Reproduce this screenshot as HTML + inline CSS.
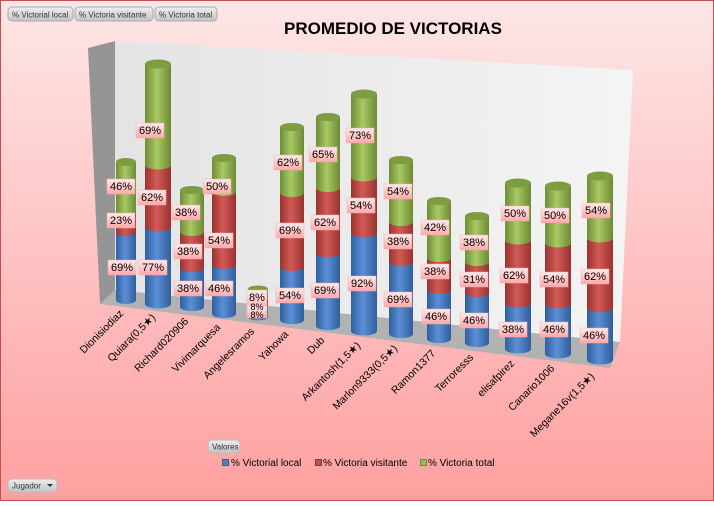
<!DOCTYPE html>
<html><head><meta charset="utf-8"><style>
body{margin:0;width:714px;height:501px;overflow:hidden;font-family:"Liberation Sans",sans-serif}
</style></head><body>
<svg width="714" height="501" xmlns="http://www.w3.org/2000/svg" font-family="Liberation Sans, DejaVu Sans, sans-serif">
<defs>
<linearGradient id="bg" x1="0" y1="0" x2="0" y2="1"><stop offset="0" stop-color="#fde6e6"/><stop offset="1" stop-color="#ffa0a0"/></linearGradient>
<linearGradient id="wall" x1="0" y1="0" x2="1" y2="0"><stop offset="0" stop-color="#e4e4e4"/><stop offset="1" stop-color="#f4f4f4"/></linearGradient>
<linearGradient id="gb" x1="0" x2="1"><stop offset="0" stop-color="#2f5f9e"/><stop offset=".45" stop-color="#5b8fd6"/><stop offset="1" stop-color="#305e9c"/></linearGradient>
<linearGradient id="gr" x1="0" x2="1"><stop offset="0" stop-color="#9a3330"/><stop offset=".45" stop-color="#d25a56"/><stop offset="1" stop-color="#993230"/></linearGradient>
<linearGradient id="gg" x1="0" x2="1"><stop offset="0" stop-color="#6f8d36"/><stop offset=".45" stop-color="#a8c963"/><stop offset="1" stop-color="#6c8a34"/></linearGradient>
<linearGradient id="lb" x1="0" y1="0" x2="0" y2="1"><stop offset="0" stop-color="#ffeaea"/><stop offset="1" stop-color="#ffa8a8"/></linearGradient>
<linearGradient id="btn" x1="0" y1="0" x2="0" y2="1"><stop offset="0" stop-color="#eeeeee"/><stop offset="1" stop-color="#c4c4c4"/></linearGradient>
</defs>
<rect x="0.5" y="0.5" width="713" height="500" fill="url(#bg)" stroke="#c0504d"/>
<polygon points="88,48 115,41 115,290 100,304" fill="#959595"/>
<polygon points="115,41 633,70 620,342 115,290" fill="url(#wall)"/>
<polygon points="100,304 115,290 620,342 610,368" fill="#b2b2b2"/>
<g font-size="8" fill="#333">
<rect x="8" y="7" width="65" height="14" rx="4" fill="url(#btn)" stroke="#aaa"/><text x="12" y="17.5">% Victorial local</text>
<rect x="75" y="7" width="78" height="14" rx="4" fill="url(#btn)" stroke="#aaa"/><text x="79" y="17.5">% Victoria visitante</text>
<rect x="155" y="7" width="62" height="14" rx="4" fill="url(#btn)" stroke="#aaa"/><text x="159" y="17.5">% Victoria total</text>
</g>
<text x="393" y="34" font-size="17" font-weight="bold" text-anchor="middle" fill="#000">PROMEDIO DE VICTORIAS</text>

<g id="cyl">
<rect x="116" y="232" width="20" height="68" fill="url(#gb)"/><ellipse cx="126" cy="300" rx="10" ry="4" fill="url(#gb)"/>
<rect x="116" y="212" width="20" height="20" fill="url(#gr)"/><ellipse cx="126" cy="232" rx="10" ry="4" fill="url(#gr)"/>
<rect x="116" y="162" width="20" height="50" fill="url(#gg)"/><ellipse cx="126" cy="212" rx="10" ry="4" fill="url(#gg)"/><ellipse cx="126" cy="162" rx="10" ry="4" fill="#7e9c42"/>
<rect x="145" y="227" width="26" height="77" fill="url(#gb)"/><ellipse cx="158" cy="304" rx="13" ry="4.5" fill="url(#gb)"/>
<rect x="145" y="165" width="26" height="62" fill="url(#gr)"/><ellipse cx="158" cy="227" rx="13" ry="4.5" fill="url(#gr)"/>
<rect x="145" y="64" width="26" height="101" fill="url(#gg)"/><ellipse cx="158" cy="165" rx="13" ry="4.5" fill="url(#gg)"/><ellipse cx="158" cy="64" rx="13" ry="4.5" fill="#7e9c42"/>
<rect x="180" y="268" width="24" height="39" fill="url(#gb)"/><ellipse cx="192" cy="307" rx="12" ry="4" fill="url(#gb)"/>
<rect x="180" y="232" width="24" height="36" fill="url(#gr)"/><ellipse cx="192" cy="268" rx="12" ry="4" fill="url(#gr)"/>
<rect x="180" y="190" width="24" height="42" fill="url(#gg)"/><ellipse cx="192" cy="232" rx="12" ry="4" fill="url(#gg)"/><ellipse cx="192" cy="190" rx="12" ry="4" fill="#7e9c42"/>
<rect x="212" y="265" width="24" height="49" fill="url(#gb)"/><ellipse cx="224" cy="314" rx="12" ry="4" fill="url(#gb)"/>
<rect x="212" y="192" width="24" height="73" fill="url(#gr)"/><ellipse cx="224" cy="265" rx="12" ry="4" fill="url(#gr)"/>
<rect x="212" y="158" width="24" height="34" fill="url(#gg)"/><ellipse cx="224" cy="192" rx="12" ry="4" fill="url(#gg)"/><ellipse cx="224" cy="158" rx="12" ry="4" fill="#7e9c42"/>
<rect x="248" y="307" width="20" height="10" fill="url(#gb)"/><ellipse cx="258" cy="317" rx="10" ry="3.5" fill="url(#gb)"/>
<rect x="248" y="298" width="20" height="9" fill="url(#gr)"/><ellipse cx="258" cy="307" rx="10" ry="3.5" fill="url(#gr)"/>
<rect x="248" y="289" width="20" height="9" fill="url(#gg)"/><ellipse cx="258" cy="298" rx="10" ry="3.5" fill="url(#gg)"/><ellipse cx="258" cy="289" rx="10" ry="3.5" fill="#7e9c42"/>
<rect x="280" y="267" width="24" height="53" fill="url(#gb)"/><ellipse cx="292" cy="320" rx="12" ry="4" fill="url(#gb)"/>
<rect x="280" y="193" width="24" height="74" fill="url(#gr)"/><ellipse cx="292" cy="267" rx="12" ry="4" fill="url(#gr)"/>
<rect x="280" y="127" width="24" height="66" fill="url(#gg)"/><ellipse cx="292" cy="193" rx="12" ry="4" fill="url(#gg)"/><ellipse cx="292" cy="127" rx="12" ry="4" fill="#7e9c42"/>
<rect x="316" y="253" width="24" height="73" fill="url(#gb)"/><ellipse cx="328" cy="326" rx="12" ry="4" fill="url(#gb)"/>
<rect x="316" y="188" width="24" height="65" fill="url(#gr)"/><ellipse cx="328" cy="253" rx="12" ry="4" fill="url(#gr)"/>
<rect x="316" y="117" width="24" height="71" fill="url(#gg)"/><ellipse cx="328" cy="188" rx="12" ry="4" fill="url(#gg)"/><ellipse cx="328" cy="117" rx="12" ry="4" fill="#7e9c42"/>
<rect x="351" y="233" width="26" height="98" fill="url(#gb)"/><ellipse cx="364" cy="331" rx="13" ry="4.5" fill="url(#gb)"/>
<rect x="351" y="177" width="26" height="56" fill="url(#gr)"/><ellipse cx="364" cy="233" rx="13" ry="4.5" fill="url(#gr)"/>
<rect x="351" y="94" width="26" height="83" fill="url(#gg)"/><ellipse cx="364" cy="177" rx="13" ry="4.5" fill="url(#gg)"/><ellipse cx="364" cy="94" rx="13" ry="4.5" fill="#7e9c42"/>
<rect x="389" y="262" width="24" height="72" fill="url(#gb)"/><ellipse cx="401" cy="334" rx="12" ry="4" fill="url(#gb)"/>
<rect x="389" y="222" width="24" height="40" fill="url(#gr)"/><ellipse cx="401" cy="262" rx="12" ry="4" fill="url(#gr)"/>
<rect x="389" y="160" width="24" height="62" fill="url(#gg)"/><ellipse cx="401" cy="222" rx="12" ry="4" fill="url(#gg)"/><ellipse cx="401" cy="160" rx="12" ry="4" fill="#7e9c42"/>
<rect x="427" y="290" width="24" height="49" fill="url(#gb)"/><ellipse cx="439" cy="339" rx="12" ry="4" fill="url(#gb)"/>
<rect x="427" y="258" width="24" height="32" fill="url(#gr)"/><ellipse cx="439" cy="290" rx="12" ry="4" fill="url(#gr)"/>
<rect x="427" y="201" width="24" height="57" fill="url(#gg)"/><ellipse cx="439" cy="258" rx="12" ry="4" fill="url(#gg)"/><ellipse cx="439" cy="201" rx="12" ry="4" fill="#7e9c42"/>
<rect x="465" y="293" width="24" height="50" fill="url(#gb)"/><ellipse cx="477" cy="343" rx="12" ry="4" fill="url(#gb)"/>
<rect x="465" y="262" width="24" height="31" fill="url(#gr)"/><ellipse cx="477" cy="293" rx="12" ry="4" fill="url(#gr)"/>
<rect x="465" y="216" width="24" height="46" fill="url(#gg)"/><ellipse cx="477" cy="262" rx="12" ry="4" fill="url(#gg)"/><ellipse cx="477" cy="216" rx="12" ry="4" fill="#7e9c42"/>
<rect x="505" y="303" width="26" height="46" fill="url(#gb)"/><ellipse cx="518" cy="349" rx="13" ry="4.5" fill="url(#gb)"/>
<rect x="505" y="240" width="26" height="63" fill="url(#gr)"/><ellipse cx="518" cy="303" rx="13" ry="4.5" fill="url(#gr)"/>
<rect x="505" y="183" width="26" height="57" fill="url(#gg)"/><ellipse cx="518" cy="240" rx="13" ry="4.5" fill="url(#gg)"/><ellipse cx="518" cy="183" rx="13" ry="4.5" fill="#7e9c42"/>
<rect x="545" y="304" width="26" height="50" fill="url(#gb)"/><ellipse cx="558" cy="354" rx="13" ry="4.5" fill="url(#gb)"/>
<rect x="545" y="243" width="26" height="61" fill="url(#gr)"/><ellipse cx="558" cy="304" rx="13" ry="4.5" fill="url(#gr)"/>
<rect x="545" y="186" width="26" height="57" fill="url(#gg)"/><ellipse cx="558" cy="243" rx="13" ry="4.5" fill="url(#gg)"/><ellipse cx="558" cy="186" rx="13" ry="4.5" fill="#7e9c42"/>
<rect x="587" y="308" width="26" height="52" fill="url(#gb)"/><ellipse cx="600" cy="360" rx="13" ry="4.5" fill="url(#gb)"/>
<rect x="587" y="238" width="26" height="70" fill="url(#gr)"/><ellipse cx="600" cy="308" rx="13" ry="4.5" fill="url(#gr)"/>
<rect x="587" y="176" width="26" height="62" fill="url(#gg)"/><ellipse cx="600" cy="238" rx="13" ry="4.5" fill="url(#gg)"/><ellipse cx="600" cy="176" rx="13" ry="4.5" fill="#7e9c42"/>
</g>

<g font-size="11" text-anchor="middle" fill="#000">
<g fill="url(#lb)" stroke="#f0b0b0" stroke-width="0.5">
<rect x="107" y="179" width="28" height="15"/><rect x="107" y="213" width="28" height="15"/><rect x="108" y="260" width="28" height="15"/>
<rect x="136" y="123" width="28" height="15"/><rect x="138" y="190" width="28" height="15"/><rect x="139" y="260" width="28" height="15"/>
<rect x="172" y="205" width="28" height="15"/><rect x="174" y="244" width="28" height="15"/><rect x="174" y="281" width="28" height="15"/>
<rect x="203" y="179" width="28" height="15"/><rect x="205" y="233" width="28" height="15"/><rect x="205" y="281" width="28" height="15"/>
<rect x="247" y="290" width="20" height="22"/><rect x="247" y="306" width="20" height="12"/>
<rect x="274" y="155" width="28" height="15"/><rect x="276" y="223" width="28" height="15"/><rect x="276" y="288" width="28" height="15"/>
<rect x="309" y="147" width="28" height="15"/><rect x="311" y="215" width="28" height="15"/><rect x="311" y="283" width="28" height="15"/>
<rect x="346" y="128" width="28" height="15"/><rect x="347" y="198" width="28" height="15"/><rect x="348" y="276" width="28" height="15"/>
<rect x="384" y="184" width="28" height="15"/><rect x="384" y="234" width="28" height="15"/><rect x="384" y="292" width="28" height="15"/>
<rect x="421" y="220" width="28" height="15"/><rect x="421" y="264" width="28" height="15"/><rect x="422" y="309" width="28" height="15"/>
<rect x="460" y="235" width="28" height="15"/><rect x="460" y="272" width="28" height="15"/><rect x="460" y="313" width="28" height="15"/>
<rect x="501" y="206" width="28" height="15"/><rect x="500" y="268" width="28" height="15"/><rect x="499" y="322" width="28" height="15"/>
<rect x="541" y="208" width="28" height="15"/><rect x="540" y="272" width="28" height="15"/><rect x="540" y="322" width="28" height="15"/>
<rect x="582" y="203" width="28" height="15"/><rect x="581" y="269" width="28" height="15"/><rect x="580" y="328" width="28" height="15"/>
</g>
<text x="121" y="190">46%</text><text x="121" y="224">23%</text><text x="122" y="271">69%</text>
<text x="150" y="134">69%</text><text x="152" y="201">62%</text><text x="153" y="271">77%</text>
<text x="186" y="216">38%</text><text x="188" y="255">38%</text><text x="188" y="292">38%</text>
<text x="217" y="190">50%</text><text x="219" y="244">54%</text><text x="219" y="292">46%</text>
<text x="257" y="301">8%</text><text x="257" y="310" font-size="9">8%</text><text x="257" y="318" font-size="9">8%</text>
<text x="288" y="166">62%</text><text x="290" y="234">69%</text><text x="290" y="299">54%</text>
<text x="323" y="158">65%</text><text x="325" y="226">62%</text><text x="325" y="294">69%</text>
<text x="360" y="139">73%</text><text x="361" y="209">54%</text><text x="362" y="287">92%</text>
<text x="398" y="195">54%</text><text x="398" y="245">38%</text><text x="398" y="303">69%</text>
<text x="435" y="231">42%</text><text x="435" y="275">38%</text><text x="436" y="320">46%</text>
<text x="474" y="246">38%</text><text x="474" y="283">31%</text><text x="474" y="324">46%</text>
<text x="515" y="217">50%</text><text x="514" y="279">62%</text><text x="513" y="333">38%</text>
<text x="555" y="219">50%</text><text x="554" y="283">54%</text><text x="554" y="333">46%</text>
<text x="596" y="214">54%</text><text x="595" y="280">62%</text><text x="594" y="339">46%</text>
</g>

<g font-size="10.5" text-anchor="end" fill="#000">
<text transform="translate(124,314) rotate(-45)">Dionisiodiaz</text>
<text transform="translate(156,318) rotate(-45)">Quiara(0,5★)</text>
<text transform="translate(189,322) rotate(-45)">Richard020906</text>
<text transform="translate(221,328) rotate(-45)">Vivimarquesa</text>
<text transform="translate(255,332) rotate(-45)">Angelesramos</text>
<text transform="translate(289,335) rotate(-45)">Yahowa</text>
<text transform="translate(325,341) rotate(-45)">Dub</text>
<text transform="translate(361,346) rotate(-45)">Arkantosh(1,5★)</text>
<text transform="translate(398,349) rotate(-45)">Marlon9333(0,5★)</text>
<text transform="translate(436,354) rotate(-45)">Ramon1377</text>
<text transform="translate(474,358) rotate(-45)">Terroresss</text>
<text transform="translate(515,364) rotate(-45)">elisafpirez</text>
<text transform="translate(555,369) rotate(-45)">Canario1006</text>
<text transform="translate(595,377) rotate(-45)">Megane16v(1,5★)</text>
</g>

<rect x="208" y="440" width="32" height="13" rx="4" fill="url(#btn)" stroke="#bbb"/>
<text x="212" y="449.5" font-size="8" fill="#333">Valores</text>
<g font-size="10" fill="#000">
<rect x="222.5" y="459.5" width="6" height="6" fill="#4f81bd" stroke="#385d8a"/><text x="231" y="466">% Victorial local</text>
<rect x="315.5" y="459.5" width="6" height="6" fill="#c0504d" stroke="#8c3836"/><text x="323" y="466">% Victoria visitante</text>
<rect x="420.5" y="459.5" width="6" height="6" fill="#9bbb59" stroke="#71893f"/><text x="428" y="466">% Victoria total</text>
</g>
<rect x="8" y="479" width="49" height="13" rx="4" fill="url(#btn)" stroke="#bbb"/>
<text x="12" y="488.5" font-size="8" fill="#333">Jugador</text>
<polygon points="47,484 53,484 50,487" fill="#333"/>
</svg>
</body></html>
